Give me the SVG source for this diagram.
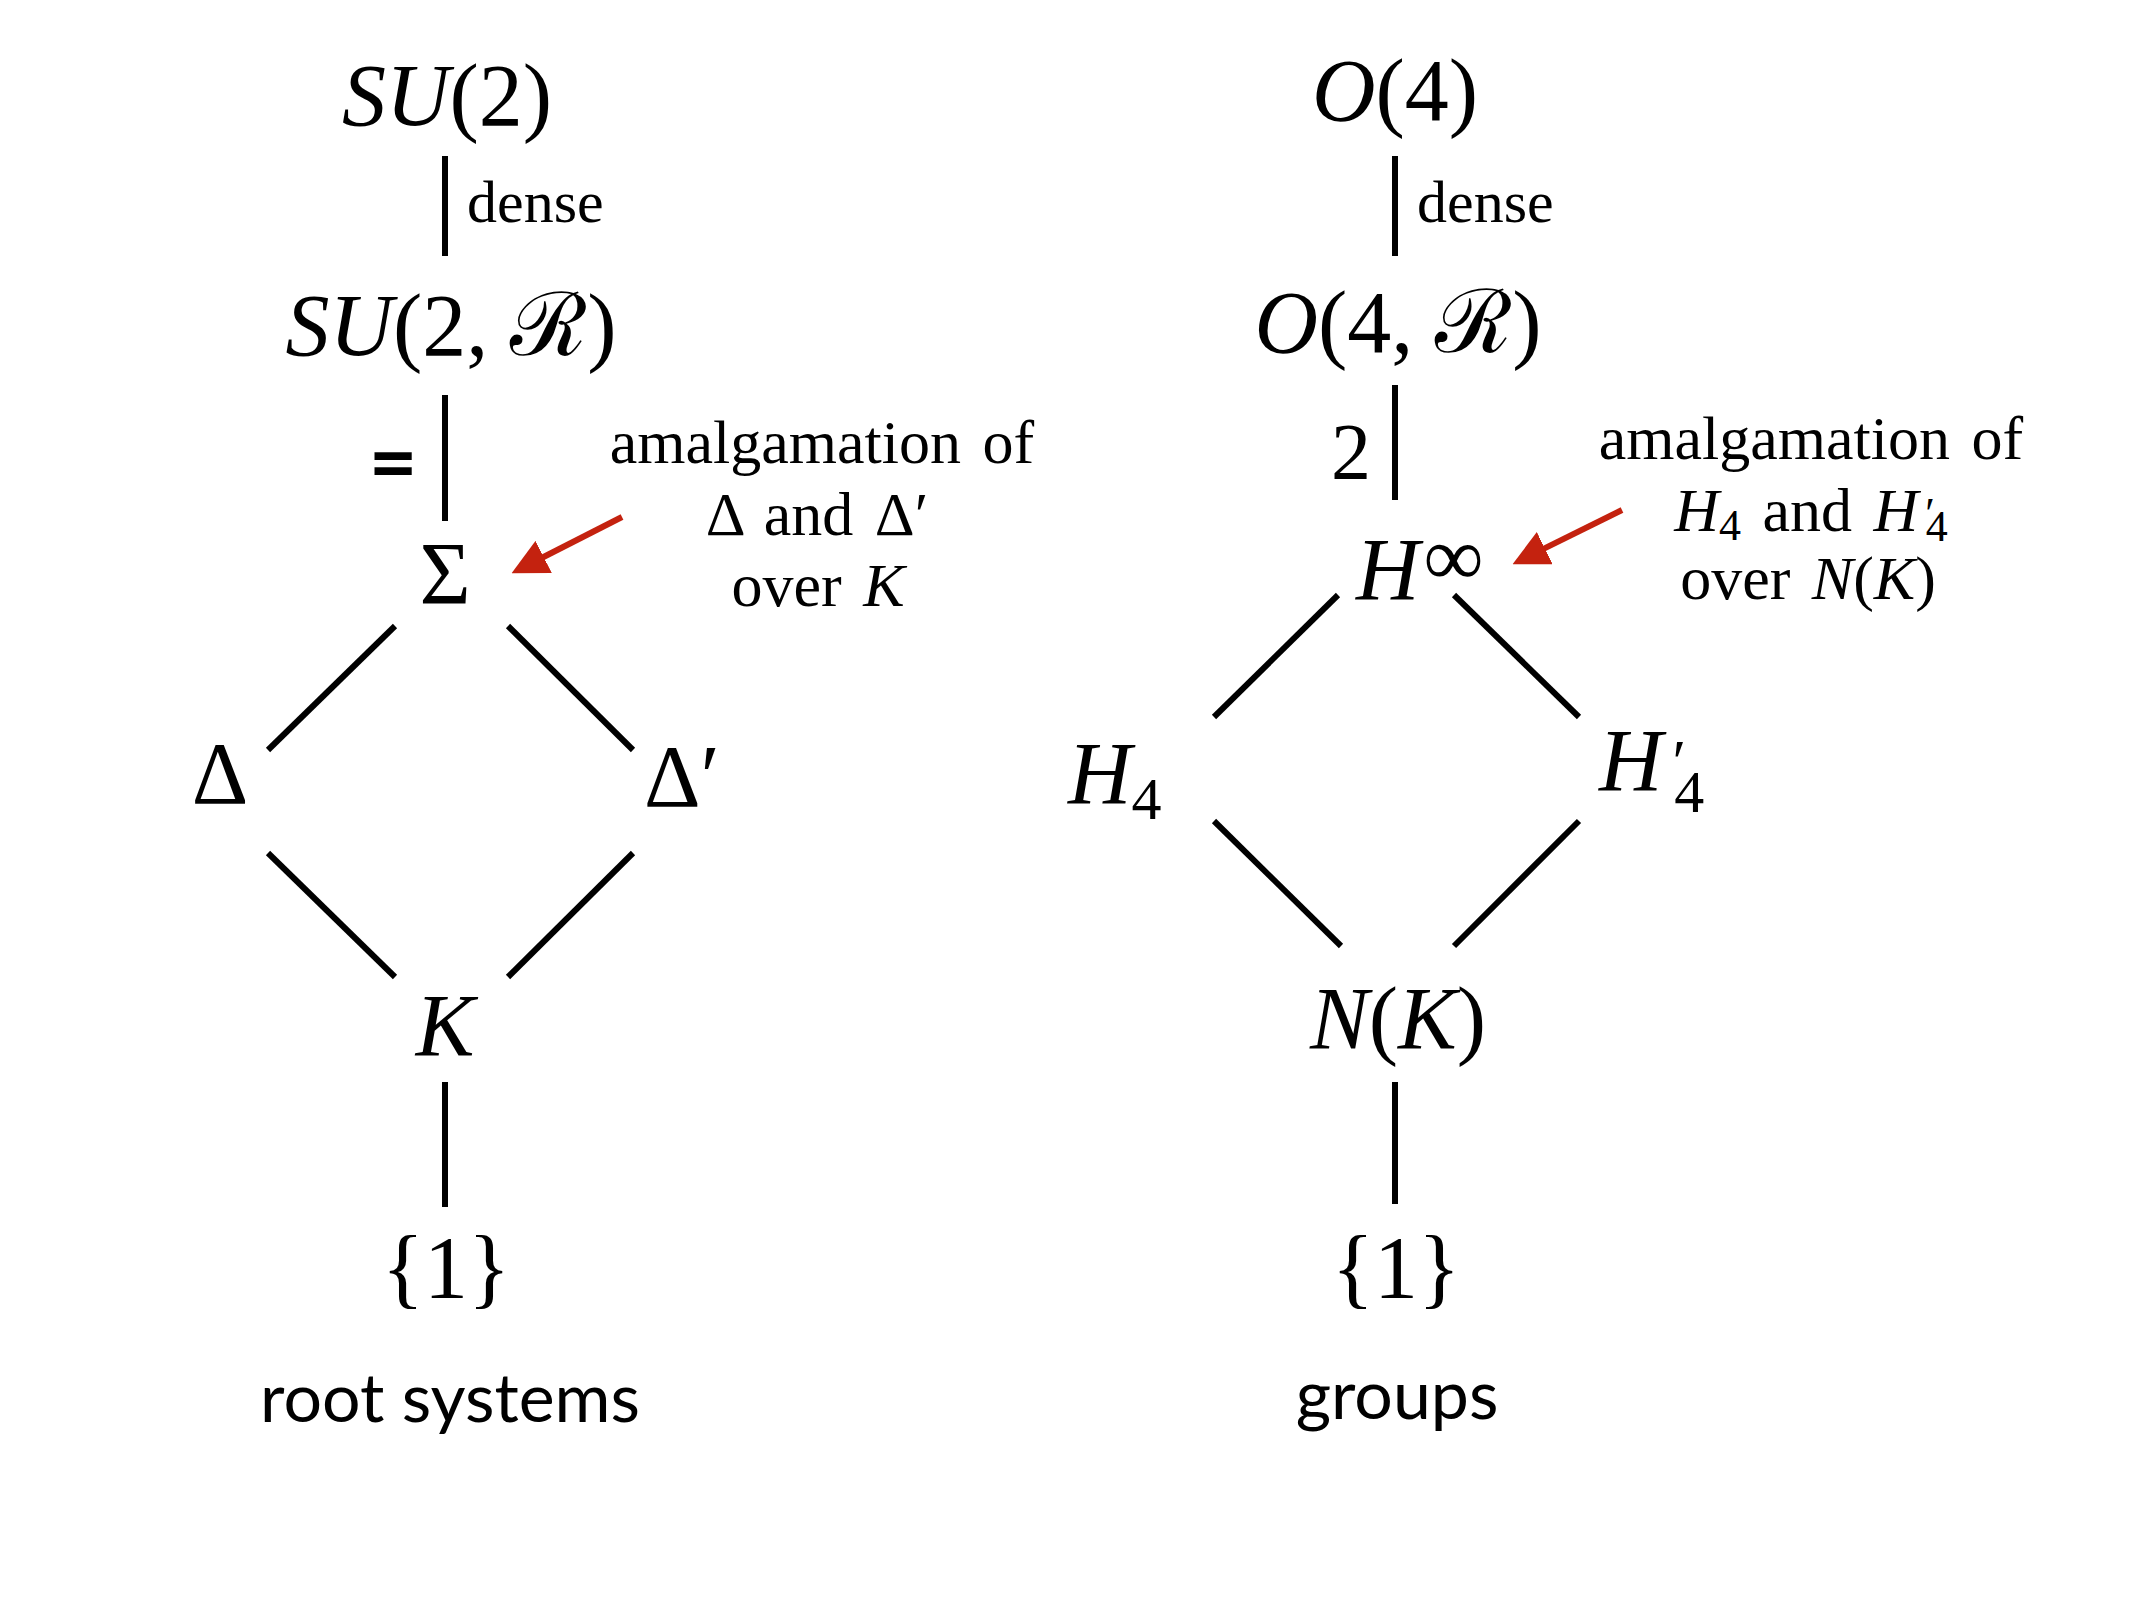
<svg xmlns="http://www.w3.org/2000/svg" width="2134" height="1600" viewBox="0 0 2134 1600">
<style>
.m{font-family:"Liberation Serif",serif;font-size:88px;fill:#000}
.i{font-style:italic}
.lab{font-family:"Liberation Serif",serif;font-size:60px;fill:#000}
.ann{font-family:"Liberation Serif",serif;font-size:62px;fill:#000;word-spacing:6px}
.foot{font-family:Lato,"Open Sans",sans-serif;font-size:68px;fill:#000}
.edge{stroke:#000;stroke-width:6;fill:none}
.arrow{stroke:#c4220f;stroke-width:6;fill:none}
</style>
<defs>
<marker id="ah" viewBox="0 0 10 10" refX="8" refY="5" markerWidth="6" markerHeight="6" orient="auto" markerUnits="strokeWidth">
<path d="M0,0 L10,5 L0,10 z" fill="#c4220f"/>
</marker>
</defs>
<rect width="2134" height="1600" fill="#fff"/>

<g id="connectors">
<line class="edge" x1="445" y1="156" x2="445" y2="256"/>
<line class="edge" x1="445" y1="395" x2="445" y2="521"/>
<line class="edge" x1="395" y1="626" x2="268" y2="750"/>
<line class="edge" x1="508" y1="626" x2="633" y2="750"/>
<line class="edge" x1="268" y1="853" x2="395" y2="977"/>
<line class="edge" x1="633" y1="853" x2="508" y2="977"/>
<line class="edge" x1="445" y1="1082" x2="445" y2="1207"/>
<line class="edge" x1="1395" y1="156" x2="1395" y2="256"/>
<line class="edge" x1="1395" y1="385" x2="1395" y2="500"/>
<line class="edge" x1="1338" y1="595" x2="1214" y2="717"/>
<line class="edge" x1="1454" y1="595" x2="1579" y2="717"/>
<line class="edge" x1="1214" y1="821" x2="1341" y2="946"/>
<line class="edge" x1="1579" y1="821" x2="1454" y2="946"/>
<line class="edge" x1="1395" y1="1082" x2="1395" y2="1204"/>
<line class="arrow" x1="622" y1="517" x2="518" y2="570" marker-end="url(#ah)"/>
<line class="arrow" x1="1622" y1="510" x2="1519" y2="561" marker-end="url(#ah)"/>
<text class="lab" x="467" y="222">dense</text>
<text x="393" y="492" font-family="Lato,sans-serif" font-weight="bold" font-size="84" text-anchor="middle">=</text>
<text class="lab" x="1417" y="222">dense</text>
<text class="m" x="1351" y="479" style="font-size:80px" text-anchor="middle">2</text>
</g>

<g id="su2"><text class="m" x="447" y="125" text-anchor="middle"><tspan class="i">SU</tspan>(2)</text></g>
<g id="su2r"><text class="m" x="451" y="355" text-anchor="middle"><tspan class="i">SU</tspan>(2, ℛ)</text></g>
<g id="sigma"><text class="m" x="445" y="603" text-anchor="middle">Σ</text></g>
<g id="delta"><text class="m" x="220" y="803" text-anchor="middle">Δ</text></g>
<g id="deltap"><text class="m" x="644" y="806">Δ′</text></g>
<g id="k"><text class="m i" x="445" y="1055" text-anchor="middle">K</text></g>
<g id="one-left"><text class="m" x="446" y="1297" text-anchor="middle">{1}</text></g>
<g id="foot-left"><text class="foot" x="450" y="1422" text-anchor="middle">root systems</text></g>
<g id="ann-left">
<text class="ann" x="822" y="463" text-anchor="middle">amalgamation of</text>
<text class="ann" x="817" y="535" text-anchor="middle">Δ and Δ′</text>
<text class="ann" x="818" y="606" text-anchor="middle">over <tspan class="i">K</tspan></text>
</g>

<g id="o4"><text class="m" x="1395" y="120" text-anchor="middle"><tspan class="i">O</tspan>(4)</text></g>
<g id="o4r"><text class="m" x="1398" y="352" text-anchor="middle"><tspan class="i">O</tspan>(4, ℛ)</text></g>
<g id="hinf"><text class="m" x="1356" y="599"><tspan class="i">H</tspan><tspan style="font-size:84px" dx="4" dy="-14">∞</tspan></text></g>
<g id="h4"><text class="m" x="1068" y="803"><tspan class="i">H</tspan><tspan style="font-size:60px" dy="16">4</tspan></text></g>
<g id="h4p"><text class="m" x="1599" y="790"><tspan class="i">H</tspan><tspan style="font-size:62px" dx="10" dy="-8">′</tspan><tspan style="font-size:60px" dx="-12" dy="30">4</tspan></text></g>
<g id="nk"><text class="m" x="1398" y="1048" text-anchor="middle"><tspan class="i">N</tspan>(<tspan class="i">K</tspan>)</text></g>
<g id="one-right"><text class="m" x="1396" y="1297" text-anchor="middle">{1}</text></g>
<g id="foot-right"><text class="foot" x="1397" y="1419" text-anchor="middle">groups</text></g>
<g id="ann-right">
<text class="ann" x="1811" y="459" text-anchor="middle">amalgamation of</text>
<text class="ann" x="1811" y="531" text-anchor="middle"><tspan class="i">H</tspan><tspan style="font-size:44px" dy="9">4</tspan><tspan dy="-9"> and </tspan><tspan class="i">H</tspan><tspan style="font-size:44px" dx="7" dy="-3">′</tspan><tspan style="font-size:44px" dx="-9" dy="13">4</tspan></text>
<text class="ann" x="1808" y="599" text-anchor="middle">over <tspan class="i">N</tspan>(<tspan class="i">K</tspan>)</text>
</g>
</svg>
